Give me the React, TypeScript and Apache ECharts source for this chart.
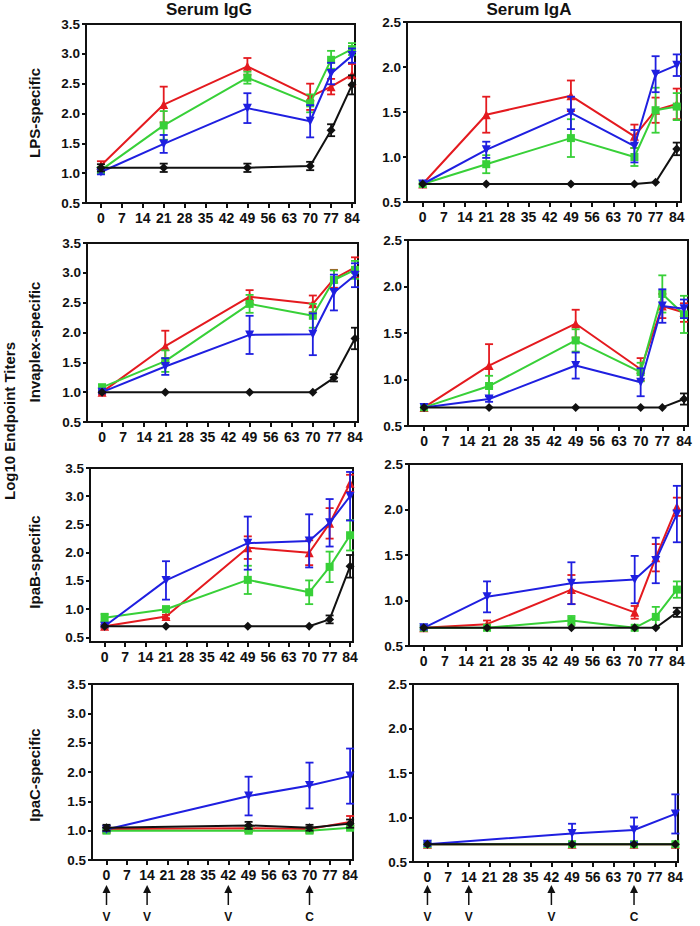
import React, { useEffect, useRef } from 'react';
import * as echarts from 'echarts';

// ---------- data ----------
const DAYS6 = [0, 21, 49, 70, 77, 84];
const DAYS4 = [0, 49, 70, 84];
const X_TICKS = [0, 7, 14, 21, 28, 35, 42, 49, 56, 63, 70, 77, 84];
const IGG_TICKS = [0.5, 1.0, 1.5, 2.0, 2.5, 3.0, 3.5];
const IGA_TICKS = [0.5, 1.0, 1.5, 2.0, 2.5];
const COLUMN_TITLES = ['Serum IgG', 'Serum IgA'];
const ROW_TITLES = ['LPS-specific', 'Invaplex-specific', 'IpaB-specific', 'IpaC-specific'];
const Y_TITLE = 'Log10 Endpoint Titers';
const ARROW_DAYS = [0, 14, 42, 70];
const ARROW_LABELS = ['V', 'V', 'V', 'C'];

// group order: red, green, blue, black
const lpsIgG = [
  [1.13, 2.15, 2.79, 2.28, 2.45, 2.65],
  [1.05, 1.8, 2.6, 2.17, 2.9, 3.08],
  [1.02, 1.49, 2.09, 1.87, 2.67, 2.97],
  [1.09, 1.09, 1.09, 1.12, 1.72, 2.48],
];
const lpsIgGErr = [
  [0.07, 0.3, 0.14, 0.22, 0.13, 0.18],
  [0.05, 0.24, 0.1, 0.15, 0.15, 0.1],
  [0.04, 0.15, 0.25, 0.27, 0.18, 0.12],
  [0.06, 0.07, 0.07, 0.07, 0.1, 0.16],
];
const lpsIgA = [
  [0.7, 1.47, 1.68, 1.23, 1.52, 1.59],
  [0.7, 0.92, 1.21, 1.0, 1.52, 1.56],
  [0.7, 1.08, 1.49, 1.12, 1.92, 2.02],
  [0.7, 0.7, 0.7, 0.7, 0.72, 1.09],
];
const lpsIgAErr = [
  [0, 0.2, 0.17, 0.13, 0.14, 0.17],
  [0, 0.1, 0.21, 0.1, 0.25, 0.15],
  [0, 0.09, 0.18, 0.18, 0.2, 0.12],
  [0, 0, 0, 0, 0, 0.07],
];
const invIgG = [
  [1.0, 1.77, 2.6, 2.48, 2.9, 3.09],
  [1.08, 1.52, 2.48, 2.28, 2.88, 3.05],
  [1.0, 1.43, 1.96, 1.97, 2.67, 2.96],
  [1.0, 1.0, 1.0, 1.0, 1.24, 1.9],
];
const invIgGErr = [
  [0.03, 0.26, 0.11, 0.14, 0.15, 0.17],
  [0.05, 0.18, 0.15, 0.2, 0.16, 0.15],
  [0.02, 0.14, 0.32, 0.35, 0.3, 0.2],
  [0, 0, 0, 0, 0.06, 0.18],
];
const invIgA = [
  [0.7, 1.15, 1.6, 1.11, 1.79, 1.72],
  [0.7, 0.93, 1.42, 1.08, 1.92, 1.7],
  [0.7, 0.79, 1.15, 0.97, 1.79, 1.76],
  [0.7, 0.7, 0.7, 0.7, 0.7, 0.79],
];
const invIgAErr = [
  [0, 0.23, 0.15, 0.12, 0.13, 0.1],
  [0, 0.11, 0.12, 0.1, 0.2, 0.2],
  [0, 0.03, 0.14, 0.15, 0.18, 0.1],
  [0, 0, 0, 0, 0, 0.06],
];
const ipaBIgG = [
  [0.7, 0.87, 2.09, 2.0, 2.52, 3.23],
  [0.85, 1.0, 1.52, 1.3, 1.75, 2.31],
  [0.7, 1.51, 2.17, 2.21, 2.53, 3.0],
  [0.7, 0.7, 0.7, 0.7, 0.82, 1.76],
];
const ipaBIgGErr = [
  [0.03, 0.03, 0.2, 0.22, 0.27, 0.15],
  [0.07, 0.05, 0.25, 0.21, 0.27, 0.27],
  [0.02, 0.34, 0.47, 0.47, 0.42, 0.43],
  [0, 0, 0, 0, 0.07, 0.2],
];
const ipaBIgA = [
  [0.7, 0.74, 1.12, 0.87, 1.47, 2.03],
  [0.7, 0.7, 0.78, 0.7, 0.82, 1.12],
  [0.7, 1.04, 1.19, 1.23, 1.44, 1.95],
  [0.7, 0.7, 0.7, 0.7, 0.7, 0.87],
];
const ipaBIgAErr = [
  [0, 0.04, 0.16, 0.07, 0.15, 0.1],
  [0, 0, 0.05, 0, 0.11, 0.09],
  [0.02, 0.17, 0.23, 0.26, 0.25, 0.31],
  [0, 0, 0, 0, 0, 0.05],
];
const ipaCIgG = [
  [1.03, 1.04, 1.03, 1.15],
  [1.0, 1.0, 1.0, 1.05],
  [1.02, 1.59, 1.77, 1.93],
  [1.05, 1.09, 1.05, 1.12],
];
const ipaCIgGErr = [
  [0.03, 0.03, 0.03, 0.1],
  [0.02, 0.02, 0.02, 0.03],
  [0.03, 0.33, 0.39, 0.47],
  [0.05, 0.06, 0.05, 0.07],
];
const ipaCIgA = [
  [0.7, 0.7, 0.7, 0.7],
  [0.7, 0.7, 0.7, 0.7],
  [0.7, 0.82, 0.86, 1.04],
  [0.7, 0.7, 0.7, 0.7],
];
const ipaCIgAErr = [
  [0, 0, 0, 0],
  [0, 0, 0, 0],
  [0.02, 0.11, 0.14, 0.22],
  [0, 0, 0, 0],
];

// ---------- styling / layout ----------
const COLORS = ['#e41a1f', '#38d038', '#1f1fe0', '#111111'];
const SYMBOLS = ['triangle', 'rect', 'triangle', 'diamond'];
const SYMBOL_ROT = [0, 0, 180, 0];
const SYMBOL_SIZE = [9, 8, 9, 9];
const FONT = '"Liberation Sans", Arial, sans-serif';

const PANELS = [
  { days: DAYS6, mean: lpsIgG, err: lpsIgGErr, grid: { left: 86, top: 24, width: 269, height: 179 }, x: [-5, 85], y: [0.5, 3.5], ticks: IGG_TICKS },
  { days: DAYS6, mean: lpsIgA, err: lpsIgAErr, grid: { left: 407, top: 22, width: 274, height: 180 }, x: [-5.2, 85.4], y: [0.5, 2.5], ticks: IGA_TICKS },
  { days: DAYS6, mean: invIgG, err: invIgGErr, grid: { left: 87, top: 243, width: 271, height: 179 }, x: [-5, 85], y: [0.5, 3.5], ticks: IGG_TICKS },
  { days: DAYS6, mean: invIgA, err: invIgAErr, grid: { left: 408, top: 240, width: 280, height: 186 }, x: [-5.2, 85.3], y: [0.5, 2.5], ticks: IGA_TICKS },
  { days: DAYS6, mean: ipaBIgG, err: ipaBIgGErr, grid: { left: 90, top: 468, width: 263, height: 174 }, x: [-5, 85], y: [0.42, 3.5], ticks: IGG_TICKS },
  { days: DAYS6, mean: ipaBIgA, err: ipaBIgAErr, grid: { left: 409, top: 464, width: 273, height: 182 }, x: [-4.9, 85.7], y: [0.5, 2.5], ticks: IGA_TICKS },
  { days: DAYS4, mean: ipaCIgG, err: ipaCIgGErr, grid: { left: 92, top: 684, width: 261, height: 176 }, x: [-5, 85], y: [0.5, 3.5], ticks: IGG_TICKS },
  { days: DAYS4, mean: ipaCIgA, err: ipaCIgAErr, grid: { left: 413, top: 684, width: 265, height: 178 }, x: [-4.9, 84.9], y: [0.5, 2.5], ticks: IGA_TICKS },
];

function renderErrorBar(params: any, api: any) {
  const x = api.value(0);
  const lo = api.value(1);
  const hi = api.value(2);
  const top = api.coord([x, hi]);
  const bot = api.coord([x, lo]);
  const w = 4;
  const style = { stroke: api.visual('color'), lineWidth: 1.8 };
  return {
    type: 'group',
    children: [
      { type: 'line', shape: { x1: top[0], y1: top[1], x2: bot[0], y2: bot[1] }, style },
      { type: 'line', shape: { x1: top[0] - w, y1: top[1], x2: top[0] + w, y2: top[1] }, style },
      { type: 'line', shape: { x1: bot[0] - w, y1: bot[1], x2: bot[0] + w, y2: bot[1] }, style },
    ],
  };
}

export default function App() {
  const ref = useRef<HTMLDivElement>(null);
  useEffect(() => {
    if (!ref.current) return;
    const chart = echarts.init(ref.current, undefined, { renderer: 'svg' });

    const grids: any[] = [];
    const xAxes: any[] = [];
    const yAxes: any[] = [];
    const series: any[] = [];

    PANELS.forEach((p, i) => {
      grids.push({ ...p.grid, show: true, borderColor: '#111', borderWidth: 2, containLabel: false });
      xAxes.push({
        type: 'value', gridIndex: i, min: p.x[0], max: p.x[1],
        axisLine: { show: true, onZero: false, lineStyle: { color: '#111', width: 2 } },
        axisTick: { show: true, customValues: X_TICKS, length: 5, lineStyle: { color: '#111', width: 2 } },
        axisLabel: { customValues: X_TICKS, color: '#111', fontWeight: 'bold', fontSize: 14, fontFamily: FONT, margin: 8 },
        splitLine: { show: false },
      });
      yAxes.push({
        type: 'value', gridIndex: i, min: p.y[0], max: p.y[1],
        axisLine: { show: true, onZero: false, lineStyle: { color: '#111', width: 2 } },
        axisTick: { show: true, customValues: p.ticks, length: 4, lineStyle: { color: '#111', width: 2 } },
        axisLabel: { customValues: p.ticks, color: '#111', fontWeight: 'bold', fontSize: 13.5, fontFamily: FONT, margin: 6, formatter: (v: number) => v.toFixed(1) },
        splitLine: { show: false },
      });
      for (let g = 0; g < 4; g++) {
        const errData = p.days
          .map((d, k) => [d, p.mean[g][k] - p.err[g][k], p.mean[g][k] + p.err[g][k], p.err[g][k]])
          .filter((r) => r[3] > 0);
        series.push({
          type: 'custom', xAxisIndex: i, yAxisIndex: i, renderItem: renderErrorBar,
          data: errData, itemStyle: { color: COLORS[g] }, z: 2 + g, silent: true,
          encode: { x: 0, y: [1, 2] },
        });
        series.push({
          type: 'line', xAxisIndex: i, yAxisIndex: i,
          data: p.days.map((d, k) => [d, p.mean[g][k]]),
          symbol: SYMBOLS[g], symbolRotate: SYMBOL_ROT[g], symbolSize: SYMBOL_SIZE[g],
          lineStyle: { color: COLORS[g], width: 2 },
          itemStyle: { color: COLORS[g] },
          z: 2 + g, silent: true,
        });
      }
    });

    chart.setOption({
      animation: false,
      backgroundColor: '#fff',
      grid: grids, xAxis: xAxes, yAxis: yAxes, series,
    });

    const graphics: any[] = [];
    graphics.push({ type: 'text', x: 209, y: 9, style: { text: COLUMN_TITLES[0], font: `bold 17px ${FONT}`, fill: '#111', textAlign: 'center', textVerticalAlign: 'middle' } });
    graphics.push({ type: 'text', x: 529, y: 9, style: { text: COLUMN_TITLES[1], font: `bold 17px ${FONT}`, fill: '#111', textAlign: 'center', textVerticalAlign: 'middle' } });
    const rowY = [113, 342, 562, 775];
    ROW_TITLES.forEach((t, r) => {
      graphics.push({ type: 'text', x: 34, y: rowY[r], rotation: Math.PI / 2, style: { text: t, font: `bold 15px ${FONT}`, fill: '#111', textAlign: 'center', textVerticalAlign: 'middle' } });
    });
    graphics.push({ type: 'text', x: 9, y: 421, rotation: Math.PI / 2, style: { text: Y_TITLE, font: `bold 15px ${FONT}`, fill: '#111', textAlign: 'center', textVerticalAlign: 'middle' } });

    // arrows under bottom panels
    [6, 7].forEach((gi) => {
      ARROW_DAYS.forEach((d, k) => {
        const px = chart.convertToPixel({ xAxisIndex: gi }, d) as number;
        const headTop = 885;
        graphics.push({ type: 'polygon', shape: { points: [[px, headTop], [px - 4, headTop + 8], [px + 4, headTop + 8]] }, style: { fill: '#111' } });
        graphics.push({ type: 'line', shape: { x1: px, y1: headTop + 6, x2: px, y2: 905 }, style: { stroke: '#111', lineWidth: 1.5 } });
        graphics.push({ type: 'text', x: px, y: 917, style: { text: ARROW_LABELS[k], font: `bold 12px ${FONT}`, fill: '#111', textAlign: 'center', textVerticalAlign: 'middle' } });
      });
    });
    chart.setOption({ graphic: graphics });

    return () => chart.dispose();
  }, []);
  return <div ref={ref} style={{ position: 'absolute', left: 0, top: 0, width: 700, height: 926 }} />;
}
